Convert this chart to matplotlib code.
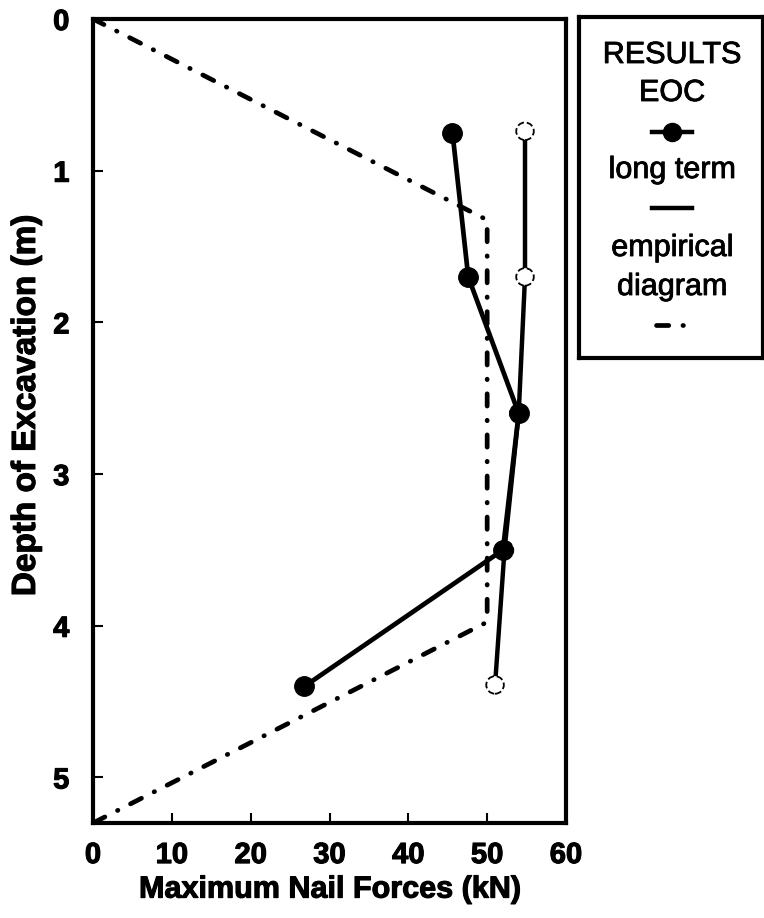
import matplotlib
matplotlib.use('Agg')
import matplotlib.pyplot as plt
import matplotlib.patheffects as pe

plt.rcParams['font.family'] = ['Liberation Sans', 'DejaVu Sans']

# ---------------- data ----------------
eoc_force = [45.6, 47.6, 54.0, 52.0, 26.8]
eoc_depth = [0.75, 1.70, 2.60, 3.50, 4.40]

long_force = [54.8, 54.8, 54.0, 52.2, 51.0]
long_depth = [0.74, 1.70, 2.60, 3.50, 4.39]

emp_force = [0, 50, 50, 0]
emp_depth = [0, 1.325, 3.975, 5.3]

x_ticks = [0, 10, 20, 30, 40, 50, 60]
y_ticks = [0, 1, 2, 3, 4, 5]

# ---------------- figure ----------------
W, H = 764, 918
fig = plt.figure(figsize=(W / 100, H / 100), dpi=100)
ax = fig.add_axes([93 / W, 1 - 823 / H, (566 - 93) / W, (823 - 19) / H])

# scanned print looks heavier than plain bold
thick = [pe.withStroke(linewidth=0.8, foreground='black')]

dashdot = (0, (2.6, 3.0, 0.1, 3.0))

ax.plot(emp_force, emp_depth, color='black', lw=3.4, linestyle=dashdot,
        dash_capstyle='round', zorder=2)
ax.plot(long_force, long_depth, color='black', lw=3.2, zorder=3)
ax.scatter(long_force, long_depth, s=160, facecolors='white', edgecolors='black',
           linewidths=1.3, linestyle='--', zorder=3)
ax.plot(eoc_force, eoc_depth, color='black', lw=3.4, marker='o', markersize=14,
        zorder=4)

ax.set_xlim(0, 60)
ax.set_ylim(5.3, 0)
ax.set_xticks(x_ticks)
ax.set_yticks(y_ticks)
ax.tick_params(direction='in', length=7, width=1.5, labelsize=21)
ax.tick_params(axis='x', pad=13)
ax.tick_params(axis='y', pad=17)
for lab in ax.get_xticklabels() + ax.get_yticklabels():
    lab.set_fontweight('bold')
    lab.set_path_effects(thick)
for sp in ax.spines.values():
    sp.set_linewidth(3)

ax.set_xlabel('Maximum Nail Forces (kN)', fontsize=22, fontweight='bold', labelpad=4,
              path_effects=thick)
ax.set_ylabel('Depth of Excavation (m)', fontsize=24, fontweight='bold',
              path_effects=thick)
ax.yaxis.set_label_coords(-0.108, 0.52)

# ---------------- legend box ----------------
lx0, ly0, lx1, ly1 = 579, 17, 763, 358
lg = fig.add_axes([lx0 / W, 1 - ly1 / H, (lx1 - lx0) / W, (ly1 - ly0) / H])
lg.set_xlim(lx0, lx1)
lg.set_ylim(ly1, ly0)
lg.set_xticks([])
lg.set_yticks([])
for sp in lg.spines.values():
    sp.set_linewidth(3)

cx = 672
for txt, yy in [('RESULTS', 55), ('EOC', 93), ('long term', 170),
                ('empirical', 248), ('diagram', 287)]:
    lg.text(cx, yy, txt, ha='center', va='center', fontsize=22,
            path_effects=[pe.withStroke(linewidth=0.6, foreground='black')])

lg.plot([cx - 20, cx + 20], [132, 132], color='black', lw=3.2)
lg.plot([cx], [132], 'o', color='black', markersize=13)
lg.plot([cx - 20, cx + 20], [208, 208], color='black', lw=3.2)
lg.plot([cx - 16, cx + 14], [325, 325], color='black', lw=3.4,
        linestyle=dashdot, dash_capstyle='round')

fig.savefig('out.png', dpi=100)
